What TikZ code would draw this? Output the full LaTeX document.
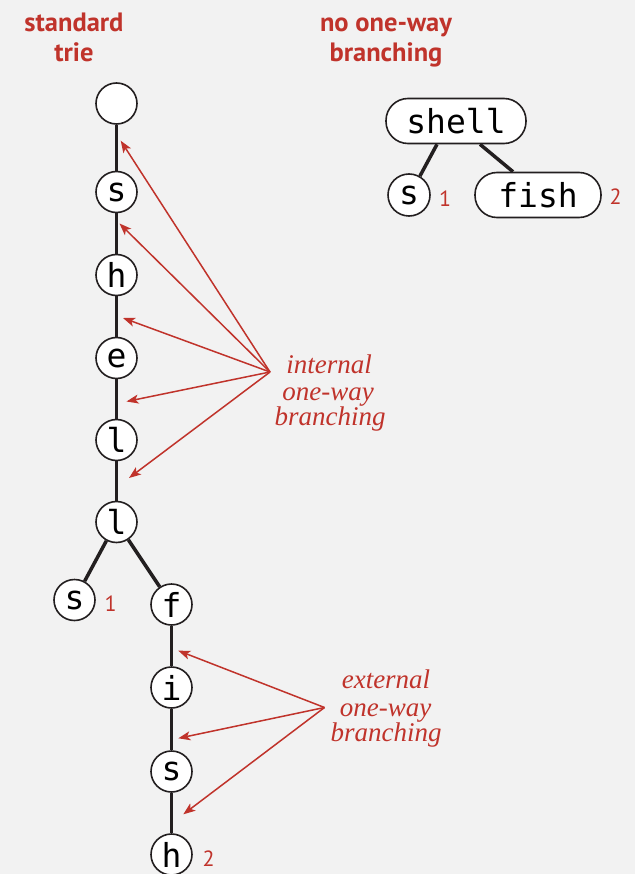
\documentclass[tikz,border=0pt]{standalone}
\usepackage{fontspec}
\newfontfamily\ttnode{DejaVu Sans Mono}
\newfontfamily\ptsans{PT Sans}
\newfontfamily\notefont{Liberation Serif}
\usetikzlibrary{arrows.meta,calc}
\definecolor{bg}{HTML}{F2F2F2}
\definecolor{tred}{HTML}{C0332B}
\definecolor{ink}{HTML}{231F20}
\begin{document}
\begin{tikzpicture}[x=1pt,y=-1pt,
 trienode/.style={circle,draw=ink,line width=1.6pt,fill=white,minimum size=41pt,inner sep=0pt,font=\ttnode\fontsize{33}{33}\selectfont},
 pill/.style={rectangle,rounded corners=22pt,draw=ink,line width=1.6pt,fill=white,minimum height=45pt,inner sep=0pt,font=\ttnode\fontsize{33}{33}\selectfont},
 link/.style={draw=ink,line width=3.5pt},
 ptr/.style={draw=tred,line width=1.5pt,-{Stealth[length=12pt,width=9pt,inset=3pt]}},
 title/.style={text=tred,font=\ptsans\bfseries\fontsize{26.5}{30}\selectfont,anchor=base,inner sep=0pt},
 note/.style={text=tred,font=\notefont\itshape\fontsize{27}{27}\selectfont,anchor=base,inner sep=0pt},
 cnt/.style={text=tred,font=\ptsans\fontsize{22}{22}\selectfont,anchor=base,inner sep=0pt}
]
\fill[bg] (0,0) rectangle (635,874);
\useasboundingbox (0,0) rectangle (635,874);

% titles
\node[title] (t1a) at (74,31.5) {standard};
\node[title] (t1b) at (74,61.5) {trie};
\node[title] (t2a) at (386,31.5) {no one-way};
\node[title] (t2b) at (386,61.5) {branching};

% standard trie
\node[trienode] (root) at (116.5,103.5) {};
\node[trienode] (n1) at (116.5,192) {s};
\node[trienode] (n2) at (116.5,275) {h};
\node[trienode] (n3) at (116.5,358) {e};
\node[trienode] (n4) at (116.5,440) {l};
\node[trienode] (n5) at (116.5,522) {l};
\node[trienode] (n6) at (74.5,600) {s};
\node[trienode] (n7) at (171.5,604.5) {f};
\node[trienode] (n8) at (171.5,687.5) {i};
\node[trienode] (n9) at (171.5,771.5) {s};
\node[trienode] (n10) at (171.5,854.5) {h};

\draw[link] (root) -- (n1);
\draw[link] (n1) -- (n2);
\draw[link] (n2) -- (n3);
\draw[link] (n3) -- (n4);
\draw[link] (n4) -- (n5);
\draw[link] (n5) -- (n6);
\draw[link] (n5) -- (n7);
\draw[link] (n7) -- (n8);
\draw[link] (n8) -- (n9);
\draw[link] (n9) -- (n10);

\node[cnt] (c1) at (110.5,611) {1};
\node[cnt] (c2) at (208.5,866) {2};

% internal one-way branching
\node[note] (ia) at (329,373) {internal};
\node[note] (ib) at (328,400) {one-way};
\node[note] (ic) at (330,425.5) {branching};
\coordinate (isrc) at (270,372);
\coordinate (it1) at (120.7,140.7);
\coordinate (it2) at (119.5,223.5);
\coordinate (it3) at (123,318);
\coordinate (it4) at (126.5,401.5);
\coordinate (it5) at (129,478);
\foreach \t in {it1,it2,it3,it4,it5} \draw[ptr] (isrc) -- (\t);

% external one-way branching
\node[note] (ea) at (386,688) {external};
\node[note] (eb) at (385.5,716) {one-way};
\node[note] (ec) at (386,741.5) {branching};
\coordinate (esrc) at (324.5,707.5);
\coordinate (et1) at (178.3,650.7);
\coordinate (et2) at (178.3,738.3);
\coordinate (et3) at (183.3,814.3);
\foreach \t in {et1,et2,et3} \draw[ptr] (esrc) -- (\t);

% no one-way branching
\node[pill,minimum width=140pt] (shell) at (456,121) {shell};
\node[trienode,minimum size=42pt] (rs) at (409,195) {s};
\node[pill,minimum width=126pt] (fish) at (538,195) {fish};
\draw[link] ([xshift=-19pt]shell.south) -- (rs.60);
\draw[link] ([xshift=24pt]shell.south) -- ([xshift=-25pt]fish.north);
\node[cnt] (c3) at (445,206.5) {1};
\node[cnt] (c4) at (615.7,205) {2};
\end{tikzpicture}
\end{document}
